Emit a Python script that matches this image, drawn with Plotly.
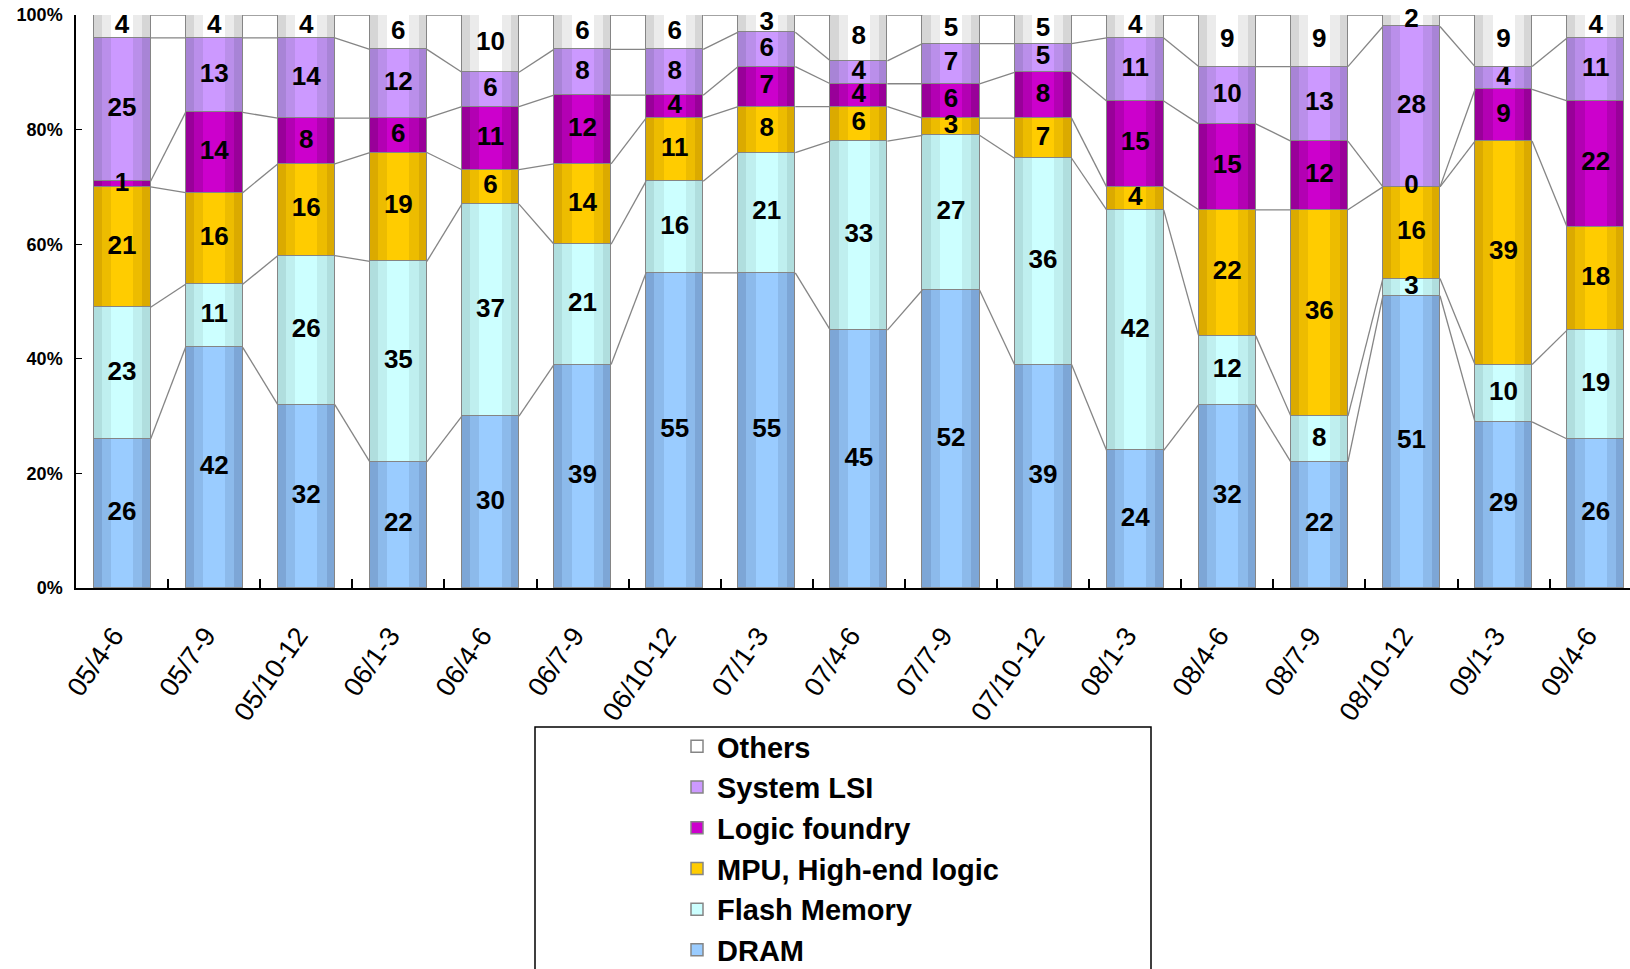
import plotly.graph_objects as go

categories = ["05/4-6", "05/7-9", "05/10-12", "06/1-3", "06/4-6", "06/7-9", "06/10-12",
              "07/1-3", "07/4-6", "07/7-9", "07/10-12", "08/1-3", "08/4-6", "08/7-9",
              "08/10-12", "09/1-3", "09/4-6"]
dram = [26, 42, 32, 22, 30, 39, 55, 55, 45, 52, 39, 24, 32, 22, 51, 29, 26]
flash_memory = [23, 11, 26, 35, 37, 21, 16, 21, 33, 27, 36, 42, 12, 8, 3, 10, 19]
mpu_high_end_logic = [21, 16, 16, 19, 6, 14, 11, 8, 6, 3, 7, 4, 22, 36, 16, 39, 18]
logic_foundry = [1, 14, 8, 6, 11, 12, 4, 7, 4, 6, 8, 15, 15, 12, 0, 9, 22]
system_lsi = [25, 13, 14, 12, 6, 8, 8, 6, 4, 7, 5, 11, 10, 13, 28, 4, 11]
others = [4, 4, 4, 6, 10, 6, 6, 3, 8, 5, 5, 4, 9, 9, 2, 9, 4]
y_tick_values = [0, 20, 40, 60, 80, 100]
y_tick_labels = ["0%", "20%", "40%", "60%", "80%", "100%"]

series_names = ["DRAM", "Flash Memory", "MPU, High-end logic", "Logic foundry", "System LSI", "Others"]
series_values = [dram, flash_memory, mpu_high_end_logic, logic_foundry, system_lsi, others]
# (edge, mid, centre) colours to imitate the cylinder-like gradient
palettes = [
    ("#7DA6D6", "#8CBAEB", "#9ACCFF"),
    ("#B0DEDE", "#BFEFEF", "#CCFFFF"),
    ("#DBAA00", "#EDBC00", "#FFCC00"),
    ("#990099", "#B300B3", "#CC00CC"),
    ("#A884D6", "#BA8FEA", "#CC99FF"),
    ("#D6D6D6", "#EBEBEB", "#FFFFFF"),
]

BAR_W = 0.62
LABEL_SHIFT = -0.09  # rotated tick labels sit slightly left of the bar centre
layer_widths = [BAR_W, 0.44, 0.24]
axes = ["y", "y2", "y3", "y4"]
border = "#858585"
font_family = "Liberation Sans, Arial, sans-serif"

x_pos = list(range(len(categories)))
fig = go.Figure()

# gradient fill layers
for layer, (w, ax) in enumerate(zip(layer_widths, axes[:3])):
    for name, vals, pal in zip(series_names, series_values, palettes):
        fig.add_trace(go.Bar(
            x=x_pos, y=vals, width=w, yaxis=ax, name=name,
            marker=dict(color=pal[layer], line=dict(width=0)),
            showlegend=False, hoverinfo="skip"))

# outline layer
for name, vals in zip(series_names, series_values):
    fig.add_trace(go.Bar(
        x=x_pos, y=vals, width=BAR_W, yaxis="y4", name=name,
        marker=dict(color="rgba(0,0,0,0)", line=dict(width=1.5, color=border)),
        showlegend=False))

# legend entries
for name, pal in zip(series_names, palettes):
    fig.add_trace(go.Bar(
        x=[None], y=[None], name=name, yaxis="y4",
        marker=dict(color=pal[2], line=dict(width=1.5, color=border)),
        showlegend=True))

# connector lines between cumulative tops
cum = [0] * len(categories)
cum_tops = []
for vals in series_values:
    cum = [c + v for c, v in zip(cum, vals)]
    cum_tops.append(cum)
for tops in cum_tops:
    lx, ly = [], []
    for i in range(len(categories) - 1):
        lx += [x_pos[i] + BAR_W / 2, x_pos[i + 1] - BAR_W / 2, None]
        ly += [tops[i], tops[i + 1], None]
    fig.add_trace(go.Scatter(x=lx, y=ly, mode="lines", yaxis="y",
                             line=dict(color=border, width=1.3),
                             showlegend=False, hoverinfo="skip"))

# value labels
base = [0] * len(categories)
for vals in series_values:
    mids = [b + v / 2 for b, v in zip(base, vals)]
    fig.add_trace(go.Scatter(
        x=x_pos, y=mids, mode="text", text=[str(v) for v in vals], yaxis="y4",
        textfont=dict(family=font_family, size=26, color="black", weight="bold"),
        showlegend=False, hoverinfo="skip", cliponaxis=False))
    base = [b + v for b, v in zip(base, vals)]

W, H = 1630, 969
ml, mr, mt, mb = 76, 0, 15, 381
pw, ph = W - ml - mr, H - mt - mb


def px_x(p):
    return (p - ml) / pw


def px_y(p):
    return (H - mb - p) / ph


overlay = dict(overlaying="y", range=[0, 100], visible=False, fixedrange=True, automargin=False)
fig.update_layout(
    width=W, height=H, margin=dict(l=ml, r=mr, t=mt, b=mb, autoexpand=False),
    barmode="stack", bargap=0, plot_bgcolor="white", paper_bgcolor="white",
    font=dict(family=font_family, color="black"),
    xaxis=dict(
        range=[-0.5, -0.5 + pw / 92.1], tickmode="array",
        tickvals=[p + LABEL_SHIFT for p in x_pos], ticktext=categories,
        tickangle=-55, tickfont=dict(size=27, color="black"), ticks="", showgrid=False,
        showline=True, linecolor="black", linewidth=2, zeroline=False, automargin=False,
        ticklabelstandoff=19,
        minor=dict(tickmode="array", tickvals=[i + 0.5 for i in x_pos[:-1]],
                   ticks="inside", ticklen=9, tickcolor="black", tickwidth=1.5, showgrid=False)),
    yaxis=dict(
        range=[0, 100], tickmode="array", tickvals=y_tick_values, ticktext=y_tick_labels,
        tickfont=dict(size=18, color="black", weight="bold"), ticks="inside", ticklen=6,
        tickcolor="black", showgrid=False, showline=True, linecolor="black", linewidth=1.5,
        zeroline=False, ticklabelstandoff=8, automargin=False),
    yaxis2=overlay, yaxis3=overlay, yaxis4=overlay,
    legend=dict(
        x=px_x(677), y=px_y(721), xanchor="left", yanchor="top", traceorder="reversed",
        font=dict(size=29, color="black", weight="bold", family=font_family),
        bgcolor="rgba(0,0,0,0)", borderwidth=0, maxheight=1000),
    shapes=[dict(type="rect", xref="paper", yref="paper",
                 x0=px_x(535), x1=px_x(1151), y0=px_y(727), y1=px_y(990),
                 line=dict(color="black", width=1.5), fillcolor="white", layer="below")],
)

fig.write_html("out.html")
